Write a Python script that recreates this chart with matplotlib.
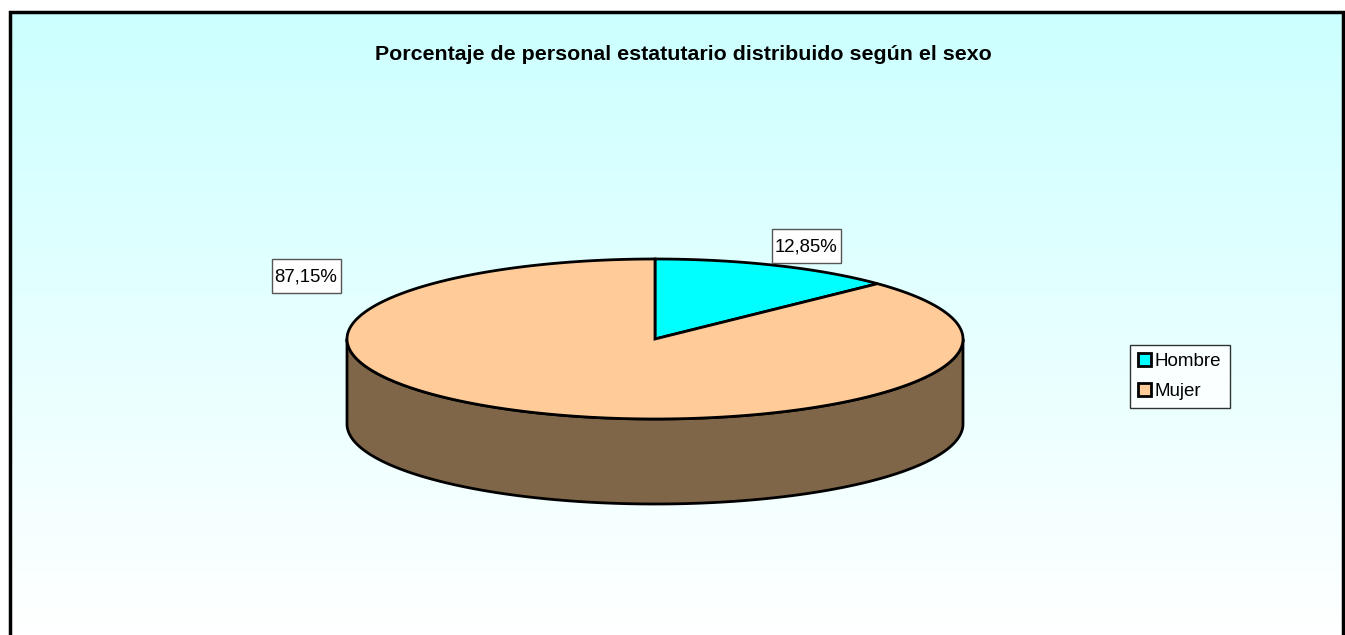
import matplotlib.pyplot as plt
import numpy as np
from matplotlib.patches import Polygon, Patch, Rectangle

plt.rcParams['font.family'] = ['Liberation Sans', 'DejaVu Sans']

categories = ['Hombre', 'Mujer']
percents = [12.85, 87.15]
labels = ['12,85%', '87,15%']
top_colors = ['#00FFFF', '#FFCC99']
side_colors = ['#3F8080', '#806649']
title = 'Porcentaje de personal estatutario distribuido según el sexo'

# layout in pixels
W, H = 1345, 635
cx, cy = 655, 339
rx, ry = 308, 80
depth = 85
label_pos = [(806, 246), (306, 276)]
label_box = (69, 34)

fig = plt.figure(figsize=(W / 100, H / 100), dpi=100)
ax = fig.add_axes([0, 0, 1, 1])
ax.set_xlim(0, W)
ax.set_ylim(H, 0)
ax.axis('off')

# background gradient and frame
grad = np.linspace(0, 1, 256)[:, None]
c0 = np.array([0.80, 1.0, 1.0])
c1 = np.array([1.0, 1.0, 1.0])
img = c0[None, None, :] * (1 - grad[:, :, None]) + c1[None, None, :] * grad[:, :, None]
ax.imshow(img, extent=[10, 1343, H, 12], aspect='auto', zorder=0)
ax.plot([10, 10, 1343, 1343], [H, 12, 12, H], color='black', lw=2.5, zorder=1,
        solid_joinstyle='miter')


def pt(theta, dz=0):
    t = np.radians(theta)
    return cx + rx * np.cos(t), cy - ry * np.sin(t) + dz


# slices go clockwise from 12 o'clock
starts = []
a = 90.0
for p in percents:
    starts.append((a, a - 360 * p / 100))
    a -= 360 * p / 100

# side walls (front half only)
for (a0, a1), sc in zip(starts, side_colors):
    th = np.linspace(a0, a1, 600)
    s = np.sin(np.radians(th))
    vis = th[s <= 0]
    if len(vis) < 2:
        continue
    top = [pt(t) for t in vis]
    bot = [pt(t, depth) for t in vis[::-1]]
    ax.add_patch(Polygon(top + bot, closed=True, fc=sc, ec='black', lw=2,
                         joinstyle='round', zorder=2))

# top faces
for (a0, a1), tc in zip(starts, top_colors):
    th = np.linspace(a0, a1, 600)
    verts = [(cx, cy)] + [pt(t) for t in th]
    ax.add_patch(Polygon(verts, closed=True, fc=tc, ec='black', lw=2,
                         joinstyle='miter', zorder=3))

# data labels
bw, bh = label_box
for (lx, ly), lab in zip(label_pos, labels):
    ax.add_patch(Rectangle((lx - bw / 2, ly - bh / 2), bw, bh, fc='white',
                           ec='#555555', lw=1, zorder=4))
    ax.text(lx, ly + 1, lab, ha='center', va='center', fontsize=13.4, zorder=5)

ax.text(683, 54, title, ha='center', va='center', fontsize=15.4,
        fontweight='bold', zorder=5)

handles = [Patch(fc=c, ec='black', lw=2) for c in top_colors]
leg = ax.legend(handles, categories, loc='upper left',
                bbox_to_anchor=(1130 / W, 1 - 345 / H), fontsize=13.5,
                frameon=True, fancybox=False, edgecolor='black',
                handlelength=0.68, handleheight=0.68, handletextpad=0.2,
                borderpad=0.45, labelspacing=0.65, borderaxespad=0)
leg.get_frame().set_linewidth(1)
leg.set_zorder(6)

fig.savefig('out.png', dpi=100)
